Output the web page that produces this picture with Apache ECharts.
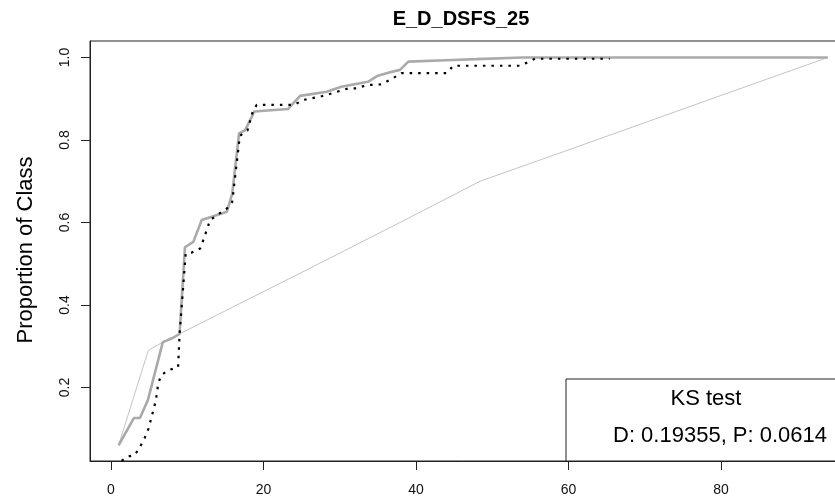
<!DOCTYPE html>
<html>
<head>
<meta charset="utf-8">
<script src="https://cdn.jsdelivr.net/npm/echarts@6/dist/echarts.min.js"></script>
<style>html,body{margin:0;padding:0;background:#fff;}#c{width:835px;height:499px;}</style>
</head>
<body>
<div id="c"></div>
<script>
// ---- data ----
const xTicks = [0, 20, 40, 60, 80];
const yTicks = [0.2, 0.4, 0.6, 0.8, 1.0];

// thin light-grey curve
const thinX = [1, 4.9, 6.9, 9, 24.8, 37.9, 48.4, 60, 70, 80, 94];
const thinY = [0.06, 0.29, 0.311, 0.33, 0.477, 0.6, 0.70, 0.776, 0.842, 0.908, 1.0];

// thick grey curve
const thickX = [1, 3, 3.8, 4.85, 6.8, 8.1, 9, 9.7, 10.8, 11.9, 15.2, 15.9, 16.8, 17.6, 18.8, 23.2, 24.8, 28.3, 30.2, 33.7, 35, 36.6, 37.9, 39, 44.8, 47.9, 54, 94];
const thickY = [0.06, 0.126, 0.126, 0.17, 0.31, 0.32, 0.33, 0.54, 0.553, 0.606, 0.626, 0.67, 0.816, 0.824, 0.869, 0.875, 0.907, 0.917, 0.929, 0.941, 0.956, 0.964, 0.97, 0.99, 0.994, 0.996, 1.0, 1.0];

// black dotted curve
const dotX = [1.4, 2.1, 3.1, 3.8, 4.4, 4.9, 5.5, 5.9, 6.2, 6.6, 7.5, 8.8, 9.0, 9.8, 10.6, 11.7, 12.2, 13, 15.2, 15.9, 16.9, 17.9, 18.6, 19.1, 24, 25.2, 27.4, 28.6, 31.1, 32.2, 33.5, 35.5, 37, 38.1, 44, 44.9, 53.6, 54.5, 55.6, 65.4];
const dotY = [0.022, 0.032, 0.036, 0.056, 0.077, 0.099, 0.141, 0.17, 0.21, 0.23, 0.242, 0.249, 0.33, 0.525, 0.527, 0.537, 0.562, 0.606, 0.634, 0.65, 0.81, 0.823, 0.869, 0.885, 0.885, 0.897, 0.905, 0.911, 0.925, 0.925, 0.933, 0.935, 0.95, 0.962, 0.962, 0.98, 0.98, 0.987, 0.997, 0.997];

const titleText = 'E_D_DSFS_25';
const yName = 'Proportion of Class';
const ksTitle = 'KS test';
const ksText = 'D: 0.19355, P: 0.0614';

const zip = (xs, ys) => xs.map((x, i) => [x, ys[i]]);

const chart = echarts.init(document.getElementById('c'), null, {renderer: 'canvas'});
const FONT = 'Liberation Sans, Arial, sans-serif';
chart.setOption({
  animation: false,
  backgroundColor: '#fff',
  grid: {left: 90, top: 41, width: 766, height: 420, containLabel: false, outerBoundsMode: 'none',
         show: true, borderColor: '#222', borderWidth: 1, backgroundColor: 'transparent'},
  xAxis: {
    type: 'value', min: -2.75, max: 97.7,
    axisLine: {show: true, onZero: false, lineStyle: {color: '#222', width: 1}},
    axisTick: {show: true, inside: false, length: 9, customValues: xTicks, lineStyle: {color: '#222'}},
    axisLabel: {show: true, customValues: xTicks, margin: 22, fontSize: 14, color: '#111',
                fontFamily: 'Liberation Sans Narrow, Liberation Sans, Arial, sans-serif'},
    splitLine: {show: false}
  },
  yAxis: {
    type: 'value', min: 0.0218, max: 1.04,
    axisLine: {show: true, onZero: false, lineStyle: {color: '#222', width: 1}},
    axisTick: {show: true, inside: false, length: 9, customValues: yTicks, lineStyle: {color: '#222'}},
    axisLabel: {show: true, customValues: yTicks, rotate: 90, margin: 18, fontSize: 14, color: '#111',
                fontFamily: FONT, formatter: v => v.toFixed(1)},
    splitLine: {show: false}
  },
  series: [
    {type: 'line', data: zip(thinX, thinY), showSymbol: false, symbol: 'none', clip: true,
     lineStyle: {color: '#c4c4c4', width: 1}, z: 2},
    {type: 'line', data: zip(thickX, thickY), showSymbol: false, symbol: 'none', clip: true,
     lineStyle: {color: '#aaaaaa', width: 2.6}, z: 3},
    {type: 'line', data: zip(dotX, dotY), showSymbol: false, symbol: 'none', clip: true,
     lineStyle: {color: '#000', width: 2.2, type: [2.5, 6], cap: 'butt'}, z: 4}
  ],
  graphic: [
    {type: 'text', x: 461, y: 19, style: {text: titleText, font: 'bold 20px ' + FONT, fill: '#000',
      textAlign: 'center', textVerticalAlign: 'middle'}},
    {type: 'text', x: 26, y: 250, rotation: Math.PI / 2, style: {text: yName, font: '22px ' + FONT, fill: '#000',
      textAlign: 'center', textVerticalAlign: 'middle'}},
    {type: 'rect', shape: {x: 566, y: 379, width: 320, height: 82}, z: 10,
     style: {fill: '#fff', stroke: '#222', lineWidth: 1}},
    {type: 'text', x: 706, y: 399, z: 11, style: {text: ksTitle, font: '22px ' + FONT, fill: '#000',
      textAlign: 'center', textVerticalAlign: 'middle'}},
    {type: 'text', x: 613, y: 436, z: 11, style: {text: ksText, font: '22px ' + FONT, fill: '#000',
      textAlign: 'left', textVerticalAlign: 'middle'}}
  ]
});
</script>
</body>
</html>
